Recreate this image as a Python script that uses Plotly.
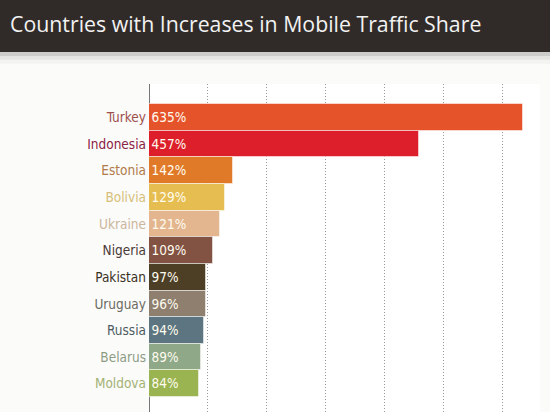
import plotly.graph_objects as go

countries = ["Turkey", "Indonesia", "Estonia", "Bolivia", "Ukraine", "Nigeria",
             "Pakistan", "Uruguay", "Russia", "Belarus", "Moldova"]
increase_pct = [635, 457, 142, 129, 121, 109, 97, 96, 94, 89, 84]
bar_colors = ["#e5532a", "#dd1f2b", "#e07a28", "#e6bd50", "#e3b690", "#825243",
              "#4d3f26", "#8e7f6f", "#5c7580", "#8ea888", "#9ab452"]
label_colors = ["#9e4f4c", "#8b2246", "#b07a4a", "#d6bf78", "#ccb69c", "#4a3a38",
                "#3a3124", "#6b6a62", "#4c5b62", "#8d9c84", "#a3b274"]
grid_ticks = [100, 200, 300, 400, 500, 600]

narrow = "DejaVu Sans Condensed, Liberation Sans Narrow, sans-serif"
positions = list(range(len(countries)))
tick_text = [f"<span style='color:{c}'>{n}</span>" for n, c in zip(countries, label_colors)]

fig = go.Figure()
fig.add_trace(
    go.Bar(
        x=increase_pct,
        y=positions,
        orientation="h",
        marker={"color": bar_colors, "line": {"color": "rgba(255,255,255,0.5)", "width": 1}},
        text=[f"{v}%" for v in increase_pct],
        textposition="inside",
        insidetextanchor="start",
        textfont={"family": narrow, "size": 13.5, "color": "#fffbee"},
        hoverinfo="skip",
    )
)

# dark title band and its soft shadow
fig.add_shape(type="rect", xref="paper", yref="paper", x0=-0.5, x1=1.2, y0=1.0976, y1=1.5,
              fillcolor="#302b28", line={"width": 0}, layer="below")
for i, alpha in enumerate([0.10, 0.06, 0.03]):
    fig.add_shape(type="rect", xref="paper", yref="paper", x0=-0.5, x1=1.2,
                  y0=1.0976 - 0.012 * (i + 1), y1=1.0976,
                  fillcolor=f"rgba(0,0,0,{alpha})", line={"width": 0}, layer="below")
fig.add_annotation(
    text="Countries with Increases in Mobile Traffic Share",
    xref="paper", yref="paper", x=-0.36, y=1.185,
    xanchor="left", yanchor="middle", showarrow=False,
    font={"family": "Open Sans, sans-serif", "size": 21.3, "color": "#f2f2f2"},
)

fig.update_layout(
    width=550,
    height=412,
    margin={"l": 149, "r": 10, "t": 84, "b": 0},
    paper_bgcolor="#fbfbfa",
    plot_bgcolor="#ffffff",
    showlegend=False,
    bargap=0.0,
    xaxis={
        "range": [0, 663],
        "tickvals": grid_ticks,
        "showticklabels": False,
        "showgrid": True,
        "gridcolor": "#999999",
        "griddash": "1px,2px",
        "gridwidth": 1,
        "zeroline": True,
        "zerolinecolor": "#777777",
        "zerolinewidth": 1,
        "fixedrange": True,
    },
    yaxis={
        "range": [11.06, -1.25],
        "tickvals": positions,
        "ticktext": tick_text,
        "tickfont": {"family": narrow, "size": 13.5},
        "showgrid": False,
        "zeroline": False,
        "ticks": "",
        "ticklabelstandoff": 2,
        "fixedrange": True,
    },
)

fig.write_html("out.html", config={"displayModeBar": False},
               post_script="document.body.style.margin='0';")
